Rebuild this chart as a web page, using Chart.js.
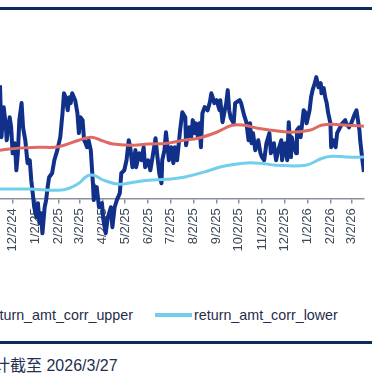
<!DOCTYPE html>
<html>
<head>
<meta charset="utf-8">
<script src="https://cdn.jsdelivr.net/npm/chart.js@4.4.1/dist/chart.umd.min.js"></script>
<style>
  body { margin: 0; background: #fff; width: 372px; height: 373px; overflow: hidden; position: relative; font-family: 'Liberation Sans', Arial, sans-serif; }
  #wrap { position: absolute; left: 0; top: 0; width: 372px; height: 300px; }
  .rule { position: absolute; left: 0; width: 372px; height: 3px; background: #0f2a5c; }
  .legend { position: absolute; top: 307px; height: 16px; display: flex; align-items: center; font-size: 14.3px; color: #1f2d4d; white-space: nowrap; }
  .legend .item { display: flex; align-items: center; margin-left: 22px; }
  .legend .swatch { width: 37px; height: 4px; margin-right: 2px; }
  #source { position: absolute; left: -22px; top: 352px; font-size: 16px; color: #1f3050; white-space: nowrap; font-family: 'Liberation Sans', 'Noto Sans CJK SC', sans-serif; }
</style>
</head>
<body>
<div class="rule" style="top:7px"></div>
<div id="wrap"><canvas id="myChart" width="372" height="300"></canvas></div>
<div class="legend" style="right:239px">
  <div class="item"><span class="swatch" style="background:#10308a"></span>return_amt_corr</div>
  <div class="item"><span class="swatch" style="background:#de6a64"></span>return_amt_corr_upper</div>
</div>
<div class="legend" style="left:155px">
  <div class="item" style="margin-left:0"><span class="swatch" style="background:#72cfec"></span>return_amt_corr_lower</div>
</div>
<div class="rule" style="top:341px"></div>
<div id="source">统计截至 2026/3/27</div>
<script>
const ctx = document.getElementById('myChart');

// x ticks (monthly)
const tickDates = ['2024-12-02','2025-01-02','2025-02-02','2025-03-02','2025-04-02','2025-05-02','2025-06-02',
  '2025-07-02','2025-08-02','2025-09-02','2025-10-02','2025-11-02','2025-12-02','2026-01-02','2026-02-02','2026-03-02'];

// return_amt_corr
const corrDates = ['2024-11-15','2024-11-17','2024-11-20','2024-11-23','2024-11-24','2024-11-28','2024-11-30',
  '2024-12-02','2024-12-05','2024-12-07','2024-12-09','2024-12-11','2024-12-14','2024-12-16','2024-12-19',
  '2024-12-22','2024-12-25','2024-12-27','2024-12-29','2024-12-31','2025-01-03','2025-01-05','2025-01-07',
  '2025-01-09','2025-01-11','2025-01-14','2025-01-16','2025-01-18','2025-01-20','2025-01-24','2025-01-27',
  '2025-01-31','2025-02-04','2025-02-07','2025-02-09','2025-02-11','2025-02-14','2025-02-16','2025-02-18',
  '2025-02-20','2025-02-24','2025-02-27','2025-03-01','2025-03-03','2025-03-06','2025-03-08','2025-03-10',
  '2025-03-12','2025-03-14','2025-03-17','2025-03-20','2025-03-21','2025-03-25','2025-03-28','2025-04-01',
  '2025-04-03','2025-04-06','2025-04-09','2025-04-13','2025-04-15','2025-04-18','2025-04-21','2025-04-25',
  '2025-04-27','2025-05-01','2025-05-04','2025-05-07','2025-05-09','2025-05-12','2025-05-16','2025-05-17',
  '2025-05-21','2025-05-24','2025-05-27','2025-05-29','2025-06-02','2025-06-05','2025-06-08','2025-06-12',
  '2025-06-14','2025-06-17','2025-06-20','2025-06-21','2025-06-24','2025-06-26','2025-06-30','2025-07-03',
  '2025-07-06','2025-07-08','2025-07-11','2025-07-15','2025-07-18','2025-07-22','2025-07-23','2025-07-27',
  '2025-07-30','2025-08-01','2025-08-04','2025-08-05','2025-08-08','2025-08-10','2025-08-12','2025-08-14',
  '2025-08-17','2025-08-21','2025-08-24','2025-08-26','2025-08-29','2025-08-30','2025-09-02','2025-09-06',
  '2025-09-07','2025-09-10','2025-09-13','2025-09-15','2025-09-17','2025-09-19','2025-09-21','2025-09-25',
  '2025-09-27','2025-10-03','2025-10-05','2025-10-09','2025-10-12','2025-10-15','2025-10-17','2025-10-19',
  '2025-10-21','2025-10-24','2025-10-28','2025-10-31','2025-11-02','2025-11-05','2025-11-08','2025-11-12',
  '2025-11-14','2025-11-18','2025-11-21','2025-11-24','2025-11-28','2025-11-29','2025-12-03','2025-12-06',
  '2025-12-08','2025-12-11','2025-12-12','2025-12-15','2025-12-18','2025-12-19','2025-12-22','2025-12-24',
  '2025-12-28','2025-12-31','2026-01-01','2026-01-05','2026-01-07','2026-01-09','2026-01-12','2026-01-14',
  '2026-01-17','2026-01-20','2026-01-21','2026-01-24','2026-01-26','2026-01-28','2026-01-30','2026-02-02',
  '2026-02-03','2026-02-06','2026-02-09','2026-02-11','2026-02-15','2026-02-18','2026-02-22','2026-02-23',
  '2026-02-27','2026-03-02','2026-03-06','2026-03-09','2026-03-10','2026-03-13','2026-03-14','2026-03-17',
  '2026-03-19'];
const corrValues = [0.509,0.277,0.411,0.321,0.263,0.366,0.321,
  0.205,0.25,0.129,0.205,0.353,0.429,0.321,0.263,
  0.161,0.174,0.085,0.027,-0.036,-0.080,-0.018,-0.107,
  -0.063,-0.152,-0.036,-0.004,0.054,0.098,0.116,0.174,
  0.219,0.277,0.384,0.473,0.455,0.397,0.455,0.429,
  0.473,0.442,0.384,0.295,0.366,0.353,0.263,0.25,
  0.232,0.263,0.219,0.063,-0.004,0.054,-0.036,-0.018,
  -0.094,-0.152,-0.080,-0.036,-0.125,-0.036,-0.004,0.027,
  0.116,0.129,0.174,0.263,0.232,0.143,0.219,0.143,
  0.205,0.174,0.232,0.143,0.174,0.129,0.188,0.272,
  0.205,0.116,0.071,0.174,0.219,0.299,0.174,0.232,
  0.161,0.232,0.174,0.308,0.388,0.366,0.241,0.321,
  0.277,0.353,0.295,0.339,0.277,0.339,0.232,0.384,
  0.411,0.397,0.433,0.473,0.442,0.429,0.442,0.397,
  0.442,0.344,0.397,0.429,0.487,0.397,0.362,0.339,
  0.429,0.442,0.429,0.375,0.344,0.263,0.339,0.25,
  0.295,0.219,0.263,0.205,0.188,0.174,0.25,0.295,
  0.205,0.25,0.174,0.219,0.263,0.174,0.25,0.174,
  0.344,0.188,0.277,0.232,0.205,0.308,0.321,0.277,
  0.397,0.384,0.339,0.397,0.455,0.487,0.518,0.545,
  0.5,0.518,0.473,0.496,0.455,0.429,0.384,0.339,
  0.232,0.263,0.232,0.295,0.321,0.339,0.353,0.339,
  0.321,0.339,0.375,0.397,0.375,0.308,0.263,0.174,
  0.121];

// return_amt_corr_upper
const upperDates = ['2024-11-15','2024-12-11','2025-01-07','2025-01-27','2025-02-09','2025-03-01','2025-03-18',
  '2025-04-03','2025-04-16','2025-05-07','2025-06-02','2025-06-28','2025-07-20','2025-08-08','2025-09-02',
  '2025-09-23','2025-10-09','2025-10-27','2025-11-15','2025-12-09','2026-01-05','2026-01-21','2026-02-04',
  '2026-02-23','2026-03-19'];
const upperValues = [0.219,0.228,0.232,0.232,0.241,0.263,0.277,
  0.259,0.246,0.241,0.246,0.25,0.263,0.272,0.299,
  0.33,0.33,0.317,0.308,0.299,0.308,0.33,0.335,
  0.33,0.326];

// return_amt_corr_lower
const lowerDates = ['2024-11-15','2024-12-25','2025-02-02','2025-02-16','2025-03-01','2025-03-12','2025-03-21',
  '2025-04-03','2025-04-24','2025-05-13','2025-06-02','2025-06-28','2025-07-20','2025-08-16','2025-09-11',
  '2025-10-08','2025-10-29','2025-11-21','2025-12-31','2026-01-22','2026-02-04','2026-02-23','2026-03-19'];
const lowerValues = [0.045,0.045,0.04,0.049,0.071,0.103,0.107,
  0.085,0.067,0.076,0.085,0.089,0.098,0.121,0.147,
  0.161,0.161,0.152,0.152,0.183,0.192,0.188,0.188];

function toPoints(dates, values) {
  return dates.map((d, i) => ({ x: Date.parse(d), y: values[i] }));
}

function fmtDate(v) {
  const d = new Date(v);
  return (d.getUTCMonth() + 1) + '/' + d.getUTCDate() + '/' + String(d.getUTCFullYear()).slice(2);
}

new Chart(ctx, {
  type: 'line',
  data: {
    datasets: [
      {
        label: 'return_amt_corr',
        data: toPoints(corrDates, corrValues),
        borderColor: '#10308a',
        borderWidth: 4,
        borderJoinStyle: 'round',
        pointRadius: 0,
        tension: 0,
        order: 3
      },
      {
        label: 'return_amt_corr_upper',
        data: toPoints(upperDates, upperValues),
        borderColor: '#de6a64',
        borderWidth: 3,
        pointRadius: 0,
        tension: 0.4,
        order: 2
      },
      {
        label: 'return_amt_corr_lower',
        data: toPoints(lowerDates, lowerValues),
        borderColor: '#72cfec',
        borderWidth: 3,
        pointRadius: 0,
        tension: 0.4,
        order: 1
      }
    ]
  },
  options: {
    responsive: false,
    animation: false,
    layout: { padding: { left: 0, right: 4, top: 20, bottom: 56 } },
    plugins: {
      legend: { display: false },
      tooltip: { enabled: false }
    },
    scales: {
      x: {
        type: 'linear',
        position: { y: 0 },
        min: Date.parse(corrDates[0]),
        max: Date.parse(corrDates[corrDates.length - 1]),
        afterBuildTicks: scale => {
          scale.ticks = tickDates.map(d => ({ value: Date.parse(d) }));
        },
        grid: { drawOnChartArea: false, drawTicks: true, tickLength: 4, color: '#8a939d', lineWidth: 1.5 },
        border: { display: true, color: '#8a939d', width: 1.5 },
        ticks: {
          autoSkip: false,
          minRotation: 90,
          maxRotation: 90,
          padding: 5,
          color: '#3c4757',
          font: { size: 13, family: "'Liberation Sans', Arial, sans-serif" },
          callback: v => fmtDate(v)
        }
      },
      y: {
        display: false,
        min: -0.2,
        max: 0.8
      }
    }
  }
});
</script>
</body>
</html>
